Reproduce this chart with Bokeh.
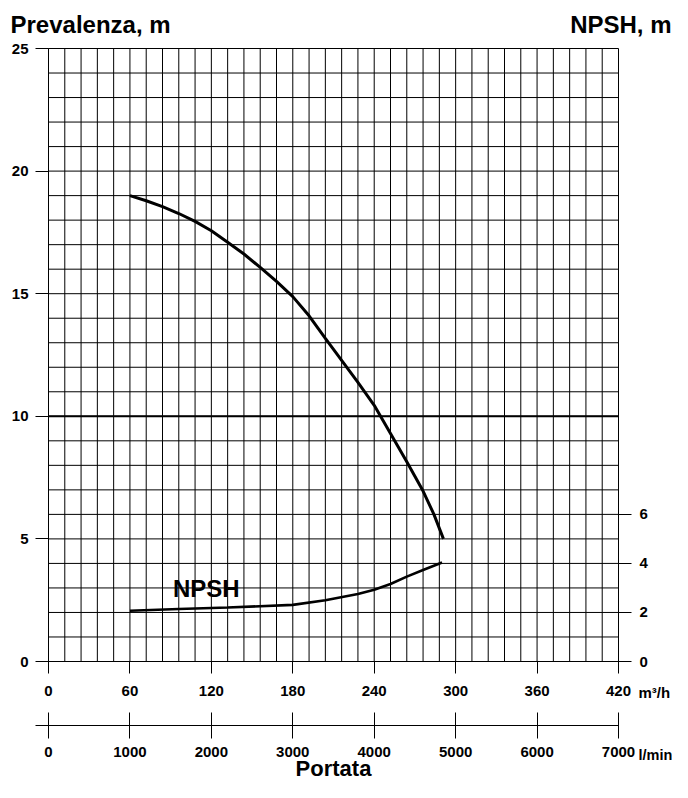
from bokeh.plotting import figure
from bokeh.models import Range1d, LinearAxis, FixedTicker, Label
from bokeh.embed import file_html
from bokeh.resources import INLINE

# ---- data ----
flow_head = [60, 72, 84, 96, 108, 120, 132, 144, 156, 168, 180, 192, 204, 216,
             228, 240, 252, 264, 276, 284, 291]
head_m = [19.0, 18.79, 18.55, 18.27, 17.95, 17.57, 17.1, 16.62, 16.07, 15.5, 14.88,
          14.1, 13.18, 12.28, 11.38, 10.45, 9.3, 8.15, 6.95, 6.0, 5.0]
flow_npsh = [60, 96, 132, 180, 204, 228, 240, 252, 264, 276, 290]
npsh_m = [2.07, 2.14, 2.2, 2.31, 2.5, 2.75, 2.93, 3.16, 3.46, 3.73, 4.04]

ticks_m3h = [0, 60, 120, 180, 240, 300, 360, 420]
ticks_lmin = [0, 1000, 2000, 3000, 4000, 5000, 6000, 7000]
ticks_head = [0, 5, 10, 15, 20, 25]
ticks_npsh = [0, 2, 4, 6]

# grid every 12 m3/h and every 1 m
grid_q = list(range(0, 421, 12))
grid_h = list(range(0, 26))

FONT = "Liberation Sans"
W, H = 672, 782
# pixel layout of the chart area inside the canvas
X0, X1 = 48.0, 618.0       # q = 0 .. 420
Y0, Y1 = 661.0, 48.0       # h = 0 .. 25
sx = (X1 - X0) / 420.0
sy = (Y0 - Y1) / 25.0
xr = Range1d(-X0 / sx, (W - X0) / sx)
yr = Range1d(-(H - Y0) / sy, 25 + Y1 / sy)
LPM = 1000.0 / 60.0        # l/min per m3/h

p = figure(width=W, height=H, x_range=xr, y_range=yr,
           x_axis_type=None, y_axis_type=None, toolbar_location=None,
           output_backend="svg", min_border=0,
           min_border_left=0, min_border_right=0, min_border_top=0, min_border_bottom=0,
           background_fill_color="white", border_fill_color="white",
           outline_line_color=None)
p.grid.visible = False
p.extra_x_ranges = {"lmin": Range1d(xr.start * LPM, xr.end * LPM)}

# grid lines
p.segment(x0=grid_q, y0=[grid_h[0]] * len(grid_q), x1=grid_q, y1=[grid_h[-1]] * len(grid_q),
          line_color="black", line_width=1)
p.segment(x0=[grid_q[0]] * len(grid_h), y0=grid_h, x1=[grid_q[-1]] * len(grid_h), y1=grid_h,
          line_color="black", line_width=1)
p.segment(x0=[grid_q[0]], y0=[10], x1=[grid_q[-1]], y1=[10], line_color="black", line_width=2)


def style_axis(ax, out, inn, standoff, size="15px"):
    ax.major_tick_out = out
    ax.major_tick_in = inn
    ax.minor_tick_out = 0
    ax.minor_tick_in = 0
    ax.major_tick_line_color = "black"
    ax.major_tick_line_width = 1
    ax.axis_line_color = "black"
    ax.axis_line_width = 1
    ax.major_label_text_font = FONT
    ax.major_label_text_font_style = "bold"
    ax.major_label_text_font_size = size
    ax.major_label_text_color = "black"
    ax.major_label_standoff = standoff


ax_left = LinearAxis(ticker=FixedTicker(ticks=ticks_head, minor_ticks=[]),
                     fixed_location=0, bounds=(0, 25))
style_axis(ax_left, 13, 0, 7)
p.add_layout(ax_left, "left")

ax_right = LinearAxis(ticker=FixedTicker(ticks=ticks_npsh, minor_ticks=[]),
                      fixed_location=420, bounds=(0, 6))
style_axis(ax_right, 13, 0, 8)
p.add_layout(ax_right, "right")

ax_m3h = LinearAxis(ticker=FixedTicker(ticks=ticks_m3h, minor_ticks=[]),
                    fixed_location=0, bounds=(0, 420))
style_axis(ax_m3h, 12, 0, 12)
p.add_layout(ax_m3h, "below")

ax_lmin = LinearAxis(x_range_name="lmin", ticker=FixedTicker(ticks=ticks_lmin, minor_ticks=[]),
                     fixed_location=-2.596, bounds=(-9.6 * LPM, 7000))
style_axis(ax_lmin, 13, 13, 9)
p.add_layout(ax_lmin, "below")

# curves
p.line(flow_head, head_m, line_color="black", line_width=3)
p.line(flow_npsh, npsh_m, line_color="black", line_width=2.6)


def lab(text, px, py, size, align="left"):
    # px, py: canvas pixel position of the text's left/centre/right end and baseline
    py = py - 0.39 * size   # compensate the offset of Bokeh's text box
    p.add_layout(Label(x=(px - X0) / sx, y=(Y0 - py) / sy, text=text, text_font=FONT,
                       text_font_style="bold", text_font_size=f"{size}px",
                       text_color="black", text_align=align, text_baseline="alphabetic"))


lab("Prevalenza, m", 10, 33.5, 24)
lab("NPSH, m", 671, 33.5, 24, align="right")
lab("NPSH", 172.5, 597.5, 24)
lab("m³/h", 638, 698, 15)
lab("l/min", 638, 760.5, 14.5)
lab("Portata", 333, 777, 22, align="center")

open("out.html", "w").write(file_html(p, INLINE))
